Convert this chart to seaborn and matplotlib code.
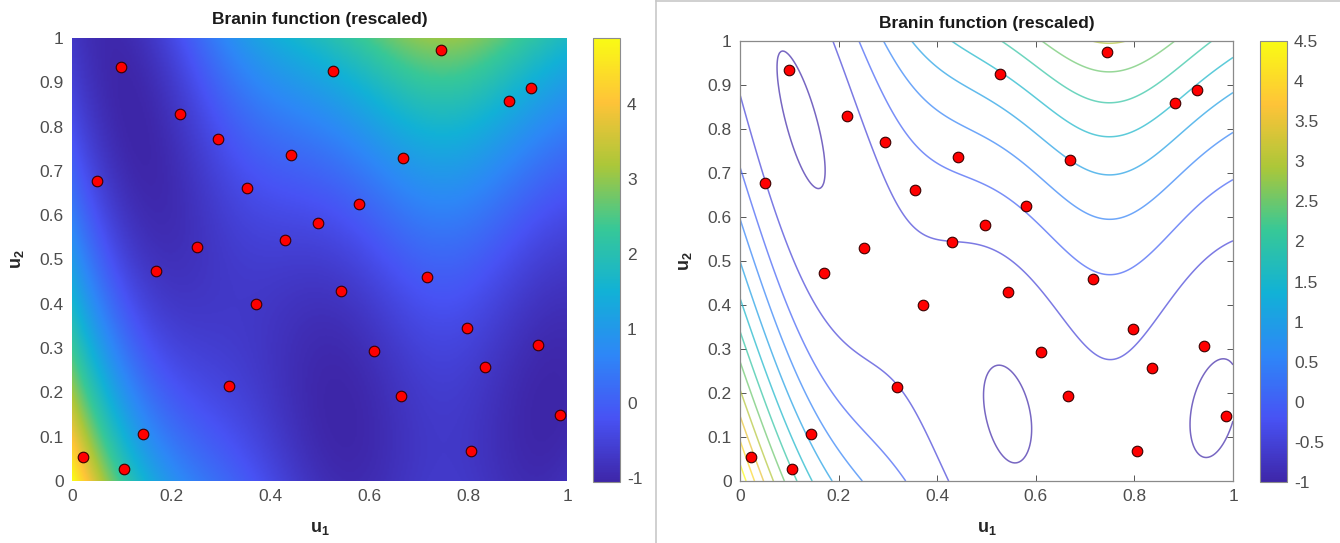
import numpy as np
import matplotlib
matplotlib.use("Agg")
import matplotlib.pyplot as plt
from matplotlib.colors import LinearSegmentedColormap, Normalize
from matplotlib.cm import ScalarMappable
from matplotlib.lines import Line2D
import seaborn as sns

# sample points (u1, u2)
u1_pts = [0.099, 0.051, 0.218, 0.295, 0.442, 0.354, 0.496, 0.430, 0.252, 0.170,
          0.527, 0.745, 0.927, 0.882, 0.669, 0.580, 0.717, 0.371, 0.318, 0.144,
          0.022, 0.106, 0.543, 0.798, 0.942, 0.611, 0.835, 0.665, 0.985, 0.806]
u2_pts = [0.935, 0.677, 0.829, 0.771, 0.737, 0.661, 0.582, 0.543, 0.529, 0.473,
          0.925, 0.974, 0.888, 0.858, 0.730, 0.626, 0.460, 0.399, 0.214, 0.107,
          0.055, 0.028, 0.429, 0.345, 0.307, 0.293, 0.257, 0.193, 0.148, 0.068]

x_ticks = [0, 0.2, 0.4, 0.6, 0.8, 1]
y_ticks = [0, 0.1, 0.2, 0.3, 0.4, 0.5, 0.6, 0.7, 0.8, 0.9, 1]
cbar_ticks_left = [-1, 0, 1, 2, 3, 4]
contour_levels = [-1, -0.5, 0, 0.5, 1, 1.5, 2, 2.5, 3, 3.5, 4, 4.5]
title = "Branin function (rescaled)"


def branin_rescaled(u1, u2):
    # rescaled Branin on the unit square
    x1 = 15 * u1 - 5
    x2 = 15 * u2
    a = x2 - 5.1 * x1 ** 2 / (4 * np.pi ** 2) + 5 * x1 / np.pi - 6
    return (a ** 2 + (10 - 10 / (8 * np.pi)) * np.cos(x1) - 44.81) / 51.95


# MATLAB parula, 8 anchors
parula = LinearSegmentedColormap.from_list("parula", [
    (0.2422, 0.1504, 0.6603), (0.2810, 0.3228, 0.9579), (0.1786, 0.5289, 0.9682),
    (0.0689, 0.6948, 0.8394), (0.2161, 0.7843, 0.5923), (0.6720, 0.7793, 0.2227),
    (0.9970, 0.7659, 0.2199), (0.9769, 0.9839, 0.0805)])

sns.set_style("white")
plt.rcParams['font.family'] = ['Liberation Sans', 'DejaVu Sans']
plt.rcParams['mathtext.fontset'] = 'custom'
plt.rcParams['mathtext.rm'] = 'Liberation Sans'
plt.rcParams['mathtext.bf'] = 'Liberation Sans:bold'

grid = np.linspace(0, 1, 301)
U1, U2 = np.meshgrid(grid, grid)
F = branin_rescaled(U1, U2)

fig = plt.figure(figsize=(13.4, 5.43), dpi=100)
W, H = 1340, 543

tick_col = '#4d4d4d'
label_kw = dict(fontsize=13, fontweight='bold', color='#262626')


def style_axes(ax, title_pad):
    ax.set_xlim(0, 1)
    ax.set_ylim(0, 1)
    ax.set_xticks(x_ticks)
    ax.set_xticklabels([f"{t:g}" for t in x_ticks])
    ax.set_yticks(y_ticks)
    ax.set_yticklabels([f"{t:g}" for t in y_ticks])
    ax.tick_params(labelsize=12.5, labelcolor=tick_col, direction='in',
                   length=4, width=0.7, color='#555555', pad=6)
    ax.set_title(title, fontsize=12.5, fontweight='bold', color='#1a1a1a', pad=title_pad)
    ax.set_xlabel(r'$\mathbf{u_1}$', labelpad=11, **label_kw)
    ax.set_ylabel(r'$\mathbf{u_2}$', labelpad=10, **label_kw)


def style_cbar(cax, cb, ticks):
    cb.set_ticks(ticks)
    cb.set_ticklabels([f"{t:g}" for t in ticks])
    cax.tick_params(labelsize=12.5, labelcolor=tick_col, direction='in',
                    length=4, width=0.7, color='#333333', pad=5)
    cb.outline.set_edgecolor('#8c8c8c')
    cb.outline.set_linewidth(0.8)


# ---- left: interpolated surface ----
ax1 = fig.add_axes([72 / W, 1 - 481 / H, 495 / W, 443 / H])
norm1 = Normalize(F.min(), F.max())
ax1.imshow(F, extent=[0, 1, 0, 1], origin='lower', cmap=parula, norm=norm1,
           aspect='auto', interpolation='bilinear')
sns.scatterplot(x=u1_pts, y=u2_pts, ax=ax1, color='red', edgecolor='#3a0000',
                s=58, linewidth=0.8, zorder=3, legend=False)
style_axes(ax1, 10)
ax1.tick_params(length=0)
for sp in ax1.spines.values():
    sp.set_visible(False)

cax1 = fig.add_axes([593 / W, 1 - 482 / H, 27 / W, 444 / H])
cb1 = fig.colorbar(ScalarMappable(norm=norm1, cmap=parula), cax=cax1)
style_cbar(cax1, cb1, cbar_ticks_left)

# ---- right: contour lines ----
ax2 = fig.add_axes([740 / W, 1 - 481 / H, 493 / W, 440 / H])
norm2 = Normalize(-1, 4.5)
ax2.contour(U1, U2, F, levels=contour_levels, cmap=parula, norm=norm2,
            linewidths=1.1, alpha=0.7)
sns.scatterplot(x=u1_pts, y=u2_pts, ax=ax2, color='red', edgecolor='#3a0000',
                s=58, linewidth=0.8, zorder=3, legend=False)
style_axes(ax2, 9)
ax2.tick_params(top=True, right=True, bottom=True, left=True)
for sp in ax2.spines.values():
    sp.set_visible(True)
    sp.set_edgecolor('#8a8a8a')
    sp.set_linewidth(0.9)

cax2 = fig.add_axes([1260 / W, 1 - 482 / H, 27 / W, 441 / H])
cb2 = fig.colorbar(ScalarMappable(norm=norm2, cmap=parula), cax=cax2)
style_cbar(cax2, cb2, contour_levels)

# window borders between the two screenshots
fig.add_artist(Line2D([655.5 / W, 655.5 / W], [0, 1], color='#c8c8c8', lw=1.2))
fig.add_artist(Line2D([655.5 / W, 1], [1 - 1 / H, 1 - 1 / H], color='#c8c8c8', lw=1.2))

fig.savefig("out.png", dpi=100)
